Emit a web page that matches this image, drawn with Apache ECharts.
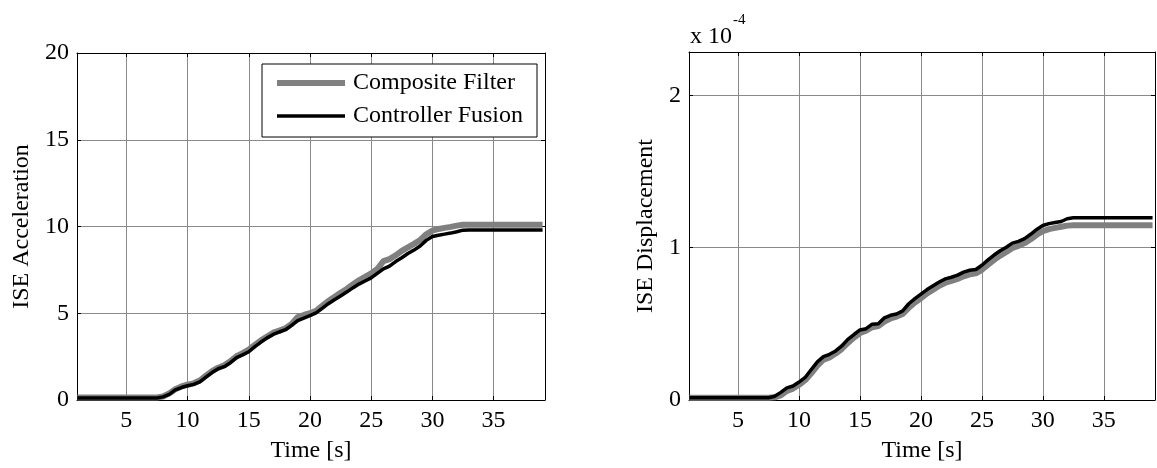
<!DOCTYPE html>
<html>
<head>
<meta charset="utf-8">
<script src="https://cdn.jsdelivr.net/npm/echarts@6/dist/echarts.min.js"></script>
<style>
  html, body { margin: 0; padding: 0; background: #fff; }
  #chart { width: 1157px; height: 468px; }
</style>
</head>
<body>
<div id="chart"></div>
<script>
// Sample times [s]
const timeS = [1, 7.5, 8, 8.5, 9, 9.5, 10, 10.5, 11, 11.5, 12, 12.5, 13, 13.5, 14, 14.5,
  15, 15.5, 16, 16.5, 17, 17.5, 18, 18.5, 19, 19.5, 20, 20.5, 21, 21.5, 22, 22.5, 23, 23.5,
  24, 24.5, 25, 25.5, 26, 26.5, 27, 27.5, 28, 28.5, 29, 29.5, 30, 30.5, 31, 31.5, 32, 32.5, 33, 39];

// ISE of acceleration
const accComposite = [0.14, 0.14, 0.2, 0.38, 0.62, 0.78, 0.88, 0.96, 1.12, 1.4, 1.66, 1.86, 2.0, 2.24,
  2.52, 2.7, 2.9, 3.18, 3.44, 3.66, 3.88, 4.0, 4.14, 4.38, 4.78, 4.9, 5.0, 5.14, 5.42, 5.7, 5.94, 6.18,
  6.4, 6.66, 6.9, 7.1, 7.3, 7.55, 8.0, 8.12, 8.34, 8.6, 8.8, 9.0, 9.22, 9.55, 9.76, 9.86, 9.92, 9.98,
  10.05, 10.1, 10.1, 10.1];
const accFusion = [0.12, 0.12, 0.18, 0.32, 0.58, 0.72, 0.82, 0.9, 1.05, 1.32, 1.58, 1.8, 1.92, 2.15,
  2.44, 2.6, 2.78, 3.08, 3.34, 3.58, 3.78, 3.92, 4.05, 4.3, 4.58, 4.72, 4.86, 5.02, 5.28, 5.55, 5.78, 6.0,
  6.22, 6.46, 6.68, 6.86, 7.04, 7.3, 7.56, 7.72, 7.98, 8.2, 8.44, 8.64, 8.88, 9.2, 9.42, 9.5, 9.56, 9.62,
  9.7, 9.79, 9.8, 9.8];

// ISE of displacement, in units of 1e-4
const dispComposite = [0.015, 0.015, 0.018, 0.03, 0.06, 0.075, 0.1, 0.13, 0.175, 0.225, 0.265, 0.28,
  0.305, 0.335, 0.375, 0.41, 0.44, 0.455, 0.478, 0.485, 0.515, 0.535, 0.548, 0.565, 0.605, 0.64, 0.668,
  0.7, 0.725, 0.75, 0.77, 0.782, 0.795, 0.812, 0.825, 0.832, 0.855, 0.888, 0.92, 0.948, 0.972, 0.998,
  1.012, 1.03, 1.055, 1.085, 1.108, 1.122, 1.13, 1.138, 1.145, 1.148, 1.148, 1.148];
const dispFusion = [0.015, 0.015, 0.025, 0.05, 0.08, 0.092, 0.118, 0.148, 0.2, 0.25, 0.285, 0.3,
  0.322, 0.355, 0.398, 0.43, 0.46, 0.468, 0.498, 0.5, 0.54, 0.556, 0.565, 0.585, 0.632, 0.665, 0.695,
  0.725, 0.75, 0.775, 0.795, 0.806, 0.82, 0.84, 0.852, 0.857, 0.885, 0.92, 0.952, 0.98, 1.003, 1.03,
  1.042, 1.06, 1.088, 1.12, 1.146, 1.158, 1.166, 1.172, 1.19, 1.196, 1.196, 1.196];

// Tick values
const timeTicks = [5, 10, 15, 20, 25, 30, 35];
const accTicks = [0, 5, 10, 15, 20];
const dispTicks = [0, 1, 2];

const seriesNames = ['Composite Filter', 'Controller Fusion'];
const xLabel = 'Time [s]';
const yLabels = ['ISE Acceleration', 'ISE Displacement'];
const dispExponent = '-4';

const FONT = 'Liberation Serif';
const GRAY = '#808080';
const GRID_GRAY = '#8a8a8a';

const pairs = (ys) => timeS.map((t, i) => [t, ys[i]]);

const tMin = 0.97, tMax = 39.2;

const axisLineStyle = { show: true, onZero: false, lineStyle: { color: '#000', width: 1 } };

function xAxes(gridIndex) {
  const base = {
    type: 'value', gridIndex, min: tMin, max: tMax,
    axisLine: axisLineStyle,
    axisTick: { show: true, inside: true, length: 4, customValues: timeTicks, lineStyle: { color: '#000' } }
  };
  return [
    Object.assign({}, base, {
      position: 'bottom',
      name: xLabel, nameLocation: 'middle', nameGap: 39,
      nameTextStyle: { fontFamily: FONT, fontSize: 24, color: '#000' },
      axisLabel: { margin: 9, fontFamily: FONT, fontSize: 24, color: '#000', customValues: timeTicks },
      splitLine: { show: true, lineStyle: { color: GRID_GRAY, width: 1 } }
    }),
    Object.assign({}, base, {
      position: 'top', axisLabel: { show: false }, splitLine: { show: false }
    })
  ];
}

function yAxes(gridIndex, max, ticks, name, gap) {
  const base = {
    type: 'value', gridIndex, min: 0, max,
    axisLine: axisLineStyle,
    axisTick: { show: true, inside: true, length: 4, customValues: ticks, lineStyle: { color: '#000' } }
  };
  return [
    Object.assign({}, base, {
      position: 'left',
      name, nameLocation: 'middle', nameGap: gap,
      nameTextStyle: { fontFamily: FONT, fontSize: 24, color: '#000' },
      axisLabel: { margin: 8, fontFamily: FONT, fontSize: 24, color: '#000', customValues: ticks },
      splitLine: { show: true, lineStyle: { color: GRID_GRAY, width: 1 } }
    }),
    Object.assign({}, base, {
      position: 'right', axisLabel: { show: false }, splitLine: { show: false }
    })
  ];
}

function lineSeries(name, data, xi, yi, color, width, z) {
  return {
    type: 'line', name, data, xAxisIndex: xi, yAxisIndex: yi,
    symbol: 'none', showSymbol: false, smooth: false, z,
    lineStyle: { color, width }, itemStyle: { color },
    emphasis: { disabled: true }
  };
}

const chart = echarts.init(document.getElementById('chart'), null, { renderer: 'canvas' });
chart.setOption({
  animation: false,
  backgroundColor: '#fff',
  grid: [
    { left: 77, top: 53, width: 468, height: 348 },
    { left: 689, top: 52, width: 466, height: 349 }
  ],
  xAxis: [...xAxes(0), ...xAxes(1)],
  yAxis: [...yAxes(0, 20, accTicks, yLabels[0], 43), ...yAxes(1, 2.285, dispTicks, yLabels[1], 31)],
  legend: {
    orient: 'vertical', left: 262, top: 64,
    backgroundColor: '#fff', borderColor: '#000', borderWidth: 1,
    padding: [7, 14, 9, 15], itemGap: 9, itemWidth: 68, itemHeight: 24,
    selectedMode: false,
    textStyle: { fontFamily: FONT, fontSize: 24, color: '#000', padding: [0, 0, 0, 3] },
    data: [
      { name: seriesNames[0], icon: 'path://M0,0H68V6H0Z', itemStyle: { color: GRAY, borderWidth: 0 } },
      { name: seriesNames[1], icon: 'path://M0,0H68V3.5H0Z', itemStyle: { color: '#000', borderWidth: 0 } }
    ]
  },
  graphic: [
    { type: 'text', left: 690, top: 25, style: { text: 'x 10', font: '24px "' + FONT + '"', fill: '#000' } },
    { type: 'text', left: 733, top: 13, style: { text: dispExponent, font: '15px "' + FONT + '"', fill: '#000' } }
  ],
  series: [
    lineSeries(seriesNames[0], pairs(accComposite), 0, 0, GRAY, 6, 2),
    lineSeries(seriesNames[1], pairs(accFusion), 0, 0, '#000', 3.5, 3),
    lineSeries(seriesNames[0], pairs(dispComposite), 2, 2, GRAY, 6, 2),
    lineSeries(seriesNames[1], pairs(dispFusion), 2, 2, '#000', 3.5, 3)
  ]
});
</script>
</body>
</html>
